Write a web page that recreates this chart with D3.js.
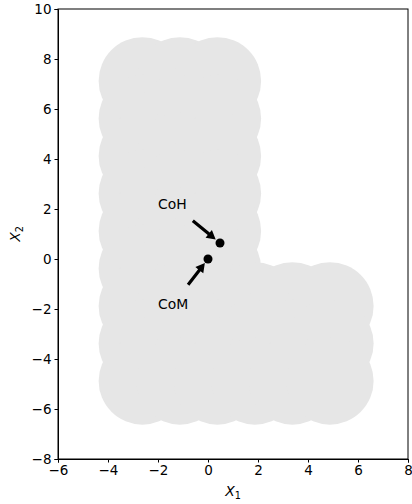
<!DOCTYPE html>
<html>
<head>
<meta charset="utf-8">
<script src="https://cdn.jsdelivr.net/npm/d3@7"></script>
<style>
	body { margin: 0; background: #fff; }
	svg { display: block; font-family: "DejaVu Sans", sans-serif; }
	.axis text { font-size: 13.5px; font-family: "DejaVu Sans", sans-serif; fill: #000; }
	.axis path, .axis line { stroke: #000; stroke-width: 1; }
</style>
</head>
<body>
<svg id="chart" width="412" height="504"></svg>
<script>
// circle centres of the L-shape, one row at a time
var rowY = [7.125, 5.625, 4.125, 2.625, 1.125, -0.375, -1.875, -3.375, -4.875];
var rowX = [
	[-2.625, -1.125, 0.375],
	[-2.625, -1.125, 0.375],
	[-2.625, -1.125, 0.375],
	[-2.625, -1.125, 0.375],
	[-2.625, -1.125, 0.375],
	[-2.625, -1.125, 0.375],
	[-2.625, -1.125, 0.375, 1.875, 3.375, 4.875],
	[-2.625, -1.125, 0.375, 1.875, 3.375, 4.875],
	[-2.625, -1.125, 0.375, 1.875, 3.375, 4.875]
];
var circleR = 1.75;

// marked points and their labels
var pointNames = ["CoM", "CoH"];
var pointX = [0, 0.48];
var pointY = [0, 0.64];
var labelX = [-2, -2];
var labelY = [-2, 2];

var xTicks = [-6, -4, -2, 0, 2, 4, 6, 8];
var yTicks = [-8, -6, -4, -2, 0, 2, 4, 6, 8, 10];

var margin = {left: 58, right: 4, top: 9, bottom: 45},
	width = 412 - margin.left - margin.right,
	height = 504 - margin.top - margin.bottom;

var svg = d3.select("#chart");
var g = svg.append("g").attr("transform", "translate(" + margin.left + "," + margin.top + ")");

var x = d3.scaleLinear().domain([-6, 8]).range([0, width]);
var y = d3.scaleLinear().domain([-8, 10]).range([height, 0]);

var centres = [];
rowY.forEach(function(cy, i){
	rowX[i].forEach(function(cx){ centres.push([cx, cy]); });
});

g.append("g").selectAll("circle")
	.data(centres)
	.enter().append("circle")
	.attr("cx", function(d){ return x(d[0]); })
	.attr("cy", function(d){ return y(d[1]); })
	.attr("r", x(circleR) - x(0))
	.attr("fill", "#e6e6e6");

var fmt = function(d){ return d < 0 ? "\u2212" + Math.abs(d) : d; };

g.append("g").attr("class", "axis")
	.attr("transform", "translate(0," + height + ")")
	.call(d3.axisBottom(x).tickValues(xTicks).tickSize(3.5).tickPadding(3).tickFormat(fmt));
g.append("g").attr("class", "axis")
	.call(d3.axisLeft(y).tickValues(yTicks).tickSize(3.5).tickPadding(3).tickFormat(fmt));

// frame
g.append("rect")
	.attr("width", width).attr("height", height)
	.attr("fill", "none").attr("stroke", "#000").attr("stroke-width", 1);

// points
g.append("g").selectAll("circle")
	.data(pointNames)
	.enter().append("circle")
	.attr("cx", function(d, i){ return x(pointX[i]); })
	.attr("cy", function(d, i){ return y(pointY[i]); })
	.attr("r", 4.5)
	.attr("fill", "#000");

// annotations: text, then arrow from text centre towards point
var labels = g.append("g").selectAll("text")
	.data(pointNames)
	.enter().append("text")
	.attr("x", function(d, i){ return x(labelX[i]); })
	.attr("y", function(d, i){ return y(labelY[i]); })
	.attr("font-size", 13.9)
	.text(function(d){ return d; });

labels.each(function(d, i){
	var b = this.getBBox();
	var cx = b.x + b.width/2, cy = b.y + b.height/2;
	var tx = x(pointX[i]), ty = y(pointY[i]);
	var dx = tx - cx, dy = ty - cy, len = Math.sqrt(dx*dx + dy*dy);
	var ux = dx/len, uy = dy/len, px = -uy, py = ux;
	var s = 0.43*len, e = 0.91*len, hl = 9, sw = 1.6, hw = 5;
	var p = function(t, o){ return [cx + ux*t + px*o, cy + uy*t + py*o]; };
	var pts = [p(s, -sw), p(e-hl, -sw), p(e-hl, -hw), p(e, 0), p(e-hl, hw), p(e-hl, sw), p(s, sw)];
	g.append("path")
		.attr("d", "M" + pts.map(function(q){ return q.join(","); }).join("L") + "Z")
		.attr("fill", "#000");
});

// axis labels
svg.append("text")
	.attr("x", margin.left + x(1)).attr("y", 496)
	.attr("text-anchor", "middle").attr("font-size", 13.9)
	.html('<tspan font-style="italic">X</tspan><tspan font-size="9.7" dy="3">1</tspan>');
svg.append("text")
	.attr("transform", "translate(20," + (margin.top + y(1)) + ") rotate(-90)")
	.attr("text-anchor", "middle").attr("font-size", 13.9)
	.html('<tspan font-style="italic">X</tspan><tspan font-size="9.7" dy="3">2</tspan>');
</script>
</body>
</html>
